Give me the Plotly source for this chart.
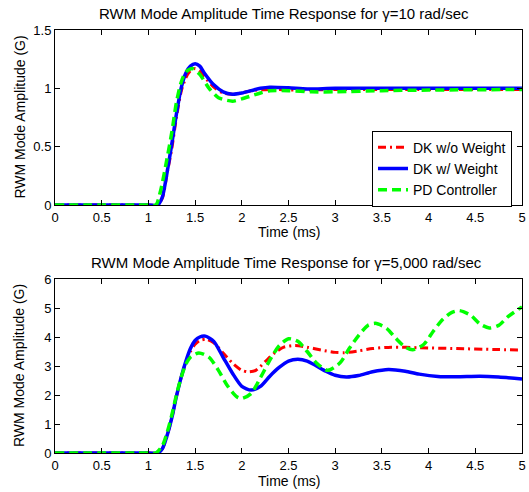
import plotly.graph_objects as go

# ---------------- data ----------------
# Top panel: gamma = 10 rad/sec
t1_red = [0, 1.0, 1.1, 1.15, 1.2, 1.25, 1.3, 1.35, 1.4, 1.45, 1.5, 1.55, 1.6, 1.7, 1.8, 1.9, 2.0, 2.1, 2.3, 2.6, 3.0, 4.0, 5.0]
y1_red = [0, 0, 0, 0.06, 0.27, 0.48, 0.75, 0.97, 1.09, 1.15, 1.17, 1.15, 1.10, 1.01, 0.96, 0.95, 0.96, 0.98, 0.99, 0.985, 0.99, 0.99, 0.99]

t1_blue = [0, 1.0, 1.1, 1.15, 1.2, 1.25, 1.3, 1.35, 1.4, 1.45, 1.5, 1.55, 1.6, 1.7, 1.8, 1.9, 2.0, 2.1, 2.2, 2.3, 2.5, 2.7, 3.0, 4.0, 5.0]
y1_blue = [0, 0, 0, 0.07, 0.28, 0.52, 0.78, 1.00, 1.13, 1.19, 1.21, 1.19, 1.13, 1.03, 0.97, 0.95, 0.96, 0.98, 1.00, 1.01, 1.005, 0.995, 1.0, 1.0, 1.0]

t1_green = [0, 1.0, 1.08, 1.13, 1.2, 1.25, 1.3, 1.35, 1.4, 1.47, 1.55, 1.65, 1.75, 1.9, 2.0, 2.2, 2.3, 2.5, 2.75, 3.0, 3.5, 4.0, 5.0]
y1_green = [0, 0, 0, 0.12, 0.40, 0.62, 0.88, 1.05, 1.14, 1.17, 1.12, 1.00, 0.92, 0.89, 0.91, 0.96, 0.98, 0.98, 0.97, 0.97, 0.98, 0.985, 0.99]

# Bottom panel: gamma = 5,000 rad/sec
t2_red = [0, 1.0, 1.1, 1.15, 1.2, 1.25, 1.3, 1.35, 1.4, 1.45, 1.5, 1.55, 1.62, 1.7, 1.8, 1.9, 2.0, 2.07, 2.15, 2.25, 2.35, 2.45, 2.57, 2.7, 2.85, 3.0, 3.1, 3.25, 3.4, 3.6, 3.9, 4.3, 4.7, 5.0]
y2_red = [0, 0, 0, 0.15, 0.6, 1.2, 1.95, 2.6, 3.12, 3.5, 3.75, 3.88, 3.92, 3.8, 3.45, 3.1, 2.85, 2.8, 2.85, 3.15, 3.45, 3.65, 3.71, 3.65, 3.55, 3.47, 3.46, 3.52, 3.6, 3.65, 3.63, 3.6, 3.57, 3.55]

t2_blue = [0, 1.0, 1.1, 1.15, 1.2, 1.25, 1.3, 1.35, 1.4, 1.45, 1.5, 1.55, 1.61, 1.7, 1.8, 1.9, 2.0, 2.1, 2.2, 2.3, 2.4, 2.5, 2.6, 2.7, 2.8, 2.9, 3.0, 3.12, 3.25, 3.4, 3.57, 3.75, 3.9, 4.1, 4.3, 4.55, 4.75, 5.0]
y2_blue = [0, 0, 0, 0.15, 0.6, 1.2, 1.95, 2.6, 3.15, 3.6, 3.88, 4.0, 4.03, 3.85, 3.3, 2.75, 2.3, 2.17, 2.3, 2.65, 2.95, 3.17, 3.23, 3.17, 3.0, 2.82, 2.68, 2.62, 2.67, 2.8, 2.88, 2.82, 2.72, 2.64, 2.63, 2.65, 2.62, 2.55]

t2_green = [0, 1.0, 1.08, 1.15, 1.2, 1.25, 1.3, 1.35, 1.4, 1.45, 1.54, 1.65, 1.75, 1.85, 1.95, 2.0, 2.1, 2.2, 2.3, 2.4, 2.5, 2.6, 2.7, 2.8, 2.92, 3.05, 3.15, 3.25, 3.35, 3.43, 3.55, 3.65, 3.75, 3.83, 3.95, 4.05, 4.15, 4.25, 4.33, 4.45, 4.55, 4.65, 4.75, 4.85, 5.0]
y2_green = [0, 0, 0, 0.25, 0.7, 1.3, 2.0, 2.6, 3.05, 3.3, 3.45, 3.3, 2.85, 2.3, 1.93, 1.88, 2.05, 2.6, 3.2, 3.7, 3.94, 3.85, 3.5, 3.1, 2.85, 3.1, 3.6, 4.05, 4.4, 4.47, 4.3, 3.95, 3.65, 3.56, 3.75, 4.2, 4.6, 4.85, 4.91, 4.75, 4.45, 4.31, 4.4, 4.7, 5.04]

series_names = ["DK w/o Weight", "DK w/ Weight", "PD Controller"]
titles = ["RWM Mode Amplitude Time Response for \u03b3=10 rad/sec",
          "RWM Mode Amplitude Time Response for \u03b3=5,000 rad/sec"]
x_ticks = [0, 0.5, 1, 1.5, 2, 2.5, 3, 3.5, 4, 4.5, 5]
x_ticklabels = ["0", "0.5", "1", "1.5", "2", "2.5", "3", "3.5", "4", "4.5", "5"]
y1_ticks = [0, 0.5, 1, 1.5]
y1_ticklabels = ["0", "0.5", "1", "1.5"]
y2_ticks = [0, 1, 2, 3, 4, 5, 6]
y2_ticklabels = ["0", "1", "2", "3", "4", "5", "6"]

# ---------------- figure ----------------
FONT = "Liberation Sans, Arial, Helvetica, sans-serif"
W, H = 529, 492
ML, MR, MT, MB = 55, 7, 30, 39
PH = H - MT - MB

def py(p):  # pixel y -> paper y
    return (H - MB - p) / PH

def px(p):  # pixel x -> paper x
    return (p - ML) / (W - ML - MR)

styles = [
    dict(color="#ff0000", width=3, dash="8px,4px,2px,4px"),
    dict(color="#0000ff", width=3.5, dash="solid"),
    dict(color="#00ff00", width=3.5, dash="9px,5px"),
]

fig = go.Figure()
top = [(t1_red, y1_red), (t1_blue, y1_blue), (t1_green, y1_green)]
bot = [(t2_red, y2_red), (t2_blue, y2_blue), (t2_green, y2_green)]
for i, (t, y) in enumerate(top):
    fig.add_trace(go.Scatter(x=t, y=y, mode="lines", name=series_names[i],
                             line=dict(shape="spline", smoothing=0.7, **styles[i]),
                             xaxis="x", yaxis="y", showlegend=True))
for i, (t, y) in enumerate(bot):
    fig.add_trace(go.Scatter(x=t, y=y, mode="lines", name=series_names[i],
                             line=dict(shape="spline", smoothing=0.7, **styles[i]),
                             xaxis="x2", yaxis="y2", showlegend=False))

ax_common = dict(showline=True, linecolor="black", linewidth=1, mirror="ticks",
                 ticks="inside", ticklen=5, tickcolor="black", showgrid=False,
                 zeroline=False, automargin=False, ticklabeloverflow="allow",
                 tickfont=dict(family=FONT, size=13, color="black"))

fig.update_layout(
    template="none",
    width=W, height=H,
    margin=dict(l=ML, r=MR, t=MT, b=MB, autoexpand=False),
    paper_bgcolor="white", plot_bgcolor="white",
    font=dict(family=FONT, size=14, color="black"),
    xaxis=dict(domain=[0, 1], range=[0, 5], tickvals=x_ticks, ticktext=x_ticklabels,
               anchor="y", **ax_common),
    yaxis=dict(domain=[py(205), py(30)], range=[0, 1.5], tickvals=y1_ticks,
               ticktext=y1_ticklabels, anchor="x", **ax_common),
    xaxis2=dict(domain=[0, 1], range=[0, 5], tickvals=x_ticks, ticktext=x_ticklabels,
                anchor="y2", **ax_common),
    yaxis2=dict(domain=[py(453), py(279)], range=[0, 6], tickvals=y2_ticks,
                ticktext=y2_ticklabels, anchor="x2", **ax_common),
    legend=dict(x=px(512), y=py(130.7), xanchor="right", yanchor="top",
                bgcolor="white", bordercolor="black", borderwidth=1,
                font=dict(family=FONT, size=14, color="black"),
                itemwidth=30, tracegroupgap=0),
    showlegend=True,
)

ann = []
common_ann = dict(xref="paper", yref="paper", showarrow=False,
                  xanchor="center", yanchor="middle")
# titles
ann.append(dict(text=titles[0], x=px(284), y=py(13),
                font=dict(family=FONT, size=15, color="black"), **common_ann))
ann.append(dict(text=titles[1], x=px(286), y=py(262),
                font=dict(family=FONT, size=15, color="black"), **common_ann))
# x axis titles
for yy in (232, 481):
    ann.append(dict(text="Time (ms)", x=px(288.5), y=py(yy),
                    font=dict(family=FONT, size=14, color="black"), **common_ann))
# y axis titles
for yy in (117.5, 366):
    ann.append(dict(text="RWM Mode Amplitude (G)", x=px(19), y=py(yy), textangle=-90,
                    font=dict(family=FONT, size=14, color="black"), **common_ann))
fig.update_layout(annotations=ann)

fig.write_html("out.html", config={"displayModeBar": False})

# remove the browser's default 8px body margin so the figure sits at (0, 0)
with open("out.html", "r", encoding="utf-8") as f:
    html = f.read()
html = html.replace("<head>", "<head><style>html,body{margin:0;padding:0;}</style>", 1)
with open("out.html", "w", encoding="utf-8") as f:
    f.write(html)
